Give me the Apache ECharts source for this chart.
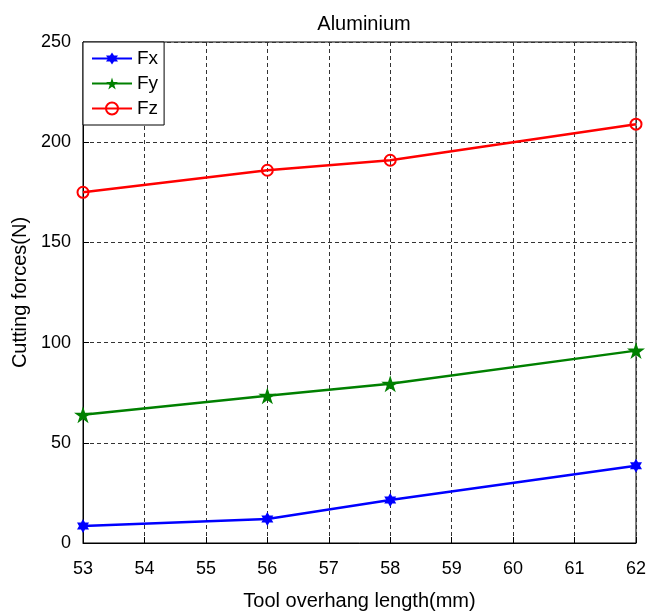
<!DOCTYPE html>
<html>
<head>
<meta charset="utf-8">
<script src="https://cdn.jsdelivr.net/npm/echarts@6/dist/echarts.min.js"></script>
<style>
  html, body { margin: 0; padding: 0; background: #fff; }
  #chart { width: 661px; height: 611px; }
</style>
</head>
<body>
<div id="chart"></div>
<script>
// overhang length (mm) and forces (N)
const lengths = [53, 56, 58, 62]
const fx = [8.5, 12, 21.5, 38.5]
const fy = [64, 73.5, 79.5, 96]
const fz = [175, 186, 191, 209]

const hexagram = 'path://M0,-100 L29,-50 87,-50 58,0 87,50 29,50 0,100 -29,50 -87,50 -58,0 -87,-50 -29,-50Z'
const pentagram = 'path://M0,-100 L22,-31 95,-31 36,12 59,81 0,38 -59,81 -36,12 -95,-31 -22,-31Z'

function pairs(ys) {
  return lengths.map((x, i) => [x, ys[i]])
}

const font = 'Liberation Sans, Arial, sans-serif'
const gridLine = { show: true, lineStyle: { color: '#333', type: [4, 3], width: 1 } }
const myChart = echarts.init(document.getElementById('chart'))

const option = {
  animation: false,
  textStyle: { fontFamily: font, color: '#000' },
  title: {
    text: 'Aluminium',
    left: 359,
    top: 9,
    textAlign: 'center',
    textStyle: { fontFamily: font, fontSize: 20, fontWeight: 'normal', color: '#000' }
  },
  grid: {
    left: 83, right: 25, top: 42, bottom: 68,
    outerBoundsMode: 'none',
    containLabel: false,
    show: true, borderColor: '#000', borderWidth: 1
  },
  legend: {
    left: 83, top: 42,
    orient: 'vertical',
    padding: [7, 6, 7, 8],
    itemGap: 6,
    itemWidth: 40,
    itemHeight: 15,
    borderColor: '#000',
    borderWidth: 1,
    backgroundColor: '#fff',
    textStyle: { fontFamily: font, fontSize: 19, color: '#000' },
    data: ['Fx', 'Fy', 'Fz']
  },
  xAxis: {
    type: 'value',
    min: 53, max: 62, interval: 1,
    name: 'Tool overhang length(mm)',
    nameLocation: 'middle',
    nameGap: 48,
    nameTextStyle: { fontFamily: font, fontSize: 20, color: '#000' },
    axisLine: { lineStyle: { color: '#000' } },
    axisTick: { inside: true, length: 6, lineStyle: { color: '#000' } },
    axisLabel: { fontFamily: font, fontSize: 18, color: '#000', margin: 17 },
    splitLine: gridLine
  },
  yAxis: {
    type: 'value',
    min: 0, max: 250, interval: 50,
    name: 'Cutting forces(N)',
    nameLocation: 'middle',
    nameGap: 49,
    nameTextStyle: { fontFamily: font, fontSize: 20, color: '#000' },
    axisLine: { show: true, lineStyle: { color: '#000' } },
    axisTick: { show: true, inside: true, length: 6, lineStyle: { color: '#000' } },
    axisLabel: { fontFamily: font, fontSize: 18, color: '#000', margin: 12 },
    splitLine: gridLine
  },
  series: [
    {
      name: 'Fx', type: 'line', data: pairs(fx),
      symbol: hexagram, symbolSize: [12, 14],
      itemStyle: { color: '#0000ff' },
      lineStyle: { color: '#0000ff', width: 2.5 }
    },
    {
      name: 'Fy', type: 'line', data: pairs(fy),
      symbol: pentagram, symbolSize: [18, 17],
      itemStyle: { color: '#008000' },
      lineStyle: { color: '#008000', width: 2.5 }
    },
    {
      name: 'Fz', type: 'line', data: pairs(fz),
      symbol: 'circle', symbolSize: 11,
      itemStyle: { color: 'rgba(0,0,0,0)', borderColor: '#ff0000', borderWidth: 2 },
      lineStyle: { color: '#ff0000', width: 2.5 }
    }
  ]
}

myChart.setOption(option)
</script>
</body>
</html>
